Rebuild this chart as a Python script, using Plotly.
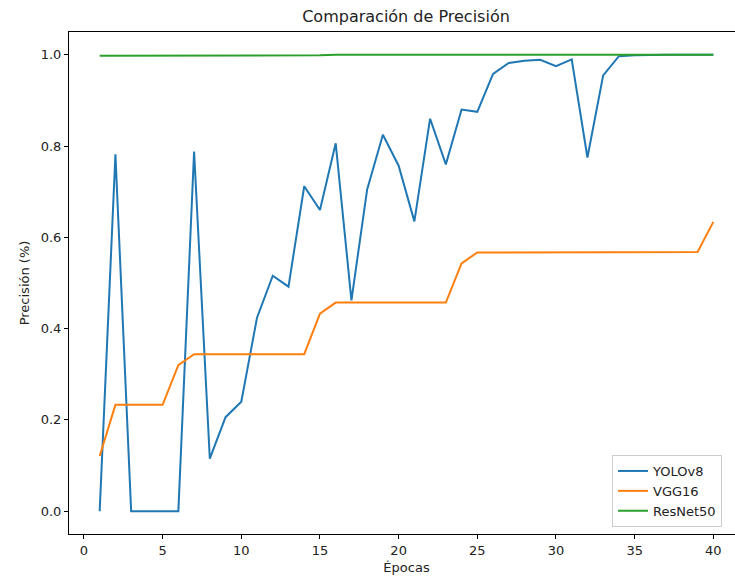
import plotly.graph_objects as go

epochs = list(range(1, 41))
yolov8 = [0.0, 0.782, 0.0, 0.0, 0.0, 0.0, 0.788, 0.115, 0.206, 0.240,
          0.424, 0.516, 0.492, 0.712, 0.660, 0.806, 0.462, 0.705, 0.825, 0.757,
          0.635, 0.860, 0.760, 0.880, 0.875, 0.958, 0.982, 0.987, 0.989, 0.975,
          0.990, 0.775, 0.955, 0.997, 0.999, 1.0, 1.0, 1.0, 1.0, 1.0]
vgg16 = [0.121, 0.233, 0.233, 0.233, 0.233, 0.320, 0.344, 0.344, 0.344, 0.344,
         0.344, 0.344, 0.344, 0.344, 0.433, 0.457, 0.457, 0.457, 0.457, 0.457,
         0.457, 0.457, 0.457, 0.543, 0.567, 0.567, 0.567, 0.567, 0.567, 0.567,
         0.567, 0.567, 0.567, 0.567, 0.567, 0.567, 0.567, 0.567, 0.568, 0.634]
resnet50 = [0.998, 0.998, 0.998, 0.999, 0.999, 0.999, 0.999, 0.999, 0.999, 0.999,
            0.999, 0.999, 0.999, 0.999, 0.999, 1.0, 1.0, 1.0, 1.0, 1.0,
            1.0, 1.0, 1.0, 1.0, 1.0, 1.0, 1.0, 1.0, 1.0, 1.0,
            1.0, 1.0, 1.0, 1.0, 1.0, 1.0, 1.0, 1.0, 1.0, 1.0]
x_ticks = [0, 5, 10, 15, 20, 25, 30, 35, 40]
y_ticks = [0.0, 0.2, 0.4, 0.6, 0.8, 1.0]

FONT = "DejaVu Sans"
W = 744
PW = W - 69
fig = go.Figure()
for name, ys, col in [("YOLOv8", yolov8, "#1f77b4"),
                      ("VGG16", vgg16, "#ff7f0e"),
                      ("ResNet50", resnet50, "#2ca02c")]:
    fig.add_trace(go.Scatter(x=epochs, y=ys, mode="lines", name=name,
                             line=dict(color=col, width=2)))

fig.update_layout(
    width=W, height=588,
    margin=dict(l=69, r=0, t=32, b=54, pad=0),
    paper_bgcolor="white", plot_bgcolor="rgba(0,0,0,0)",
    font=dict(family=FONT, size=13, color="#222222"),
    title=dict(text="Comparación de Precisión", x=(406 - 69) / PW, xref="paper",
               xanchor="center", y=1 - 16 / 588, yanchor="middle",
               font=dict(family=FONT, size=16, color="#222222")),
    showlegend=True,
    legend=dict(x=(612 - 69) / PW, xanchor="left", y=7 / 502, yanchor="bottom",
                bgcolor="rgba(255,255,255,0.8)", bordercolor="#cccccc", borderwidth=1,
                font=dict(family=FONT, size=13, color="#222222"),
                tracegroupgap=0, itemwidth=30),
    xaxis=dict(range=[-0.95, 41.95], tickvals=x_ticks, ticktext=[str(v) for v in x_ticks],
               showgrid=False, zeroline=False, showline=True, linecolor="black", linewidth=1,
               mirror=True, ticks="outside", ticklen=4, tickcolor="black",
               title=dict(text="Épocas", standoff=6, font=dict(family=FONT, size=13))),
    yaxis=dict(range=[-0.05, 1.05], tickvals=y_ticks, ticktext=[f"{v:.1f}" for v in y_ticks],
               showgrid=False, zeroline=False, showline=True, linecolor="black", linewidth=1,
               ticks="outside", ticklen=4, tickcolor="black",
               title=dict(text="Precisión (%)", standoff=8, font=dict(family=FONT, size=13))),
)

fig.write_html("out.html", config={"displayModeBar": False, "responsive": False,
                                   "staticPlot": True},
               default_width="744px", default_height="588px",
               post_script="document.body.style.margin='0';document.body.style.padding='0';"
                           "document.body.style.overflow='hidden';"
                           "document.documentElement.style.overflow='hidden';")
